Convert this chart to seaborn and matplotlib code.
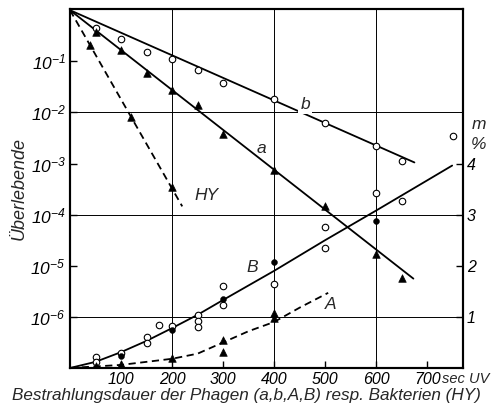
import matplotlib
matplotlib.use("Agg")
import matplotlib.pyplot as plt
import numpy as np
import pandas as pd
import seaborn as sns

sns.set_theme(style="ticks")
plt.rcParams['font.family'] = ['Liberation Sans', 'DejaVu Sans']
plt.rcParams['font.style'] = 'italic'
plt.rcParams['mathtext.fontset'] = 'custom'
plt.rcParams['mathtext.it'] = 'Liberation Sans:italic'
plt.rcParams['mathtext.rm'] = 'Liberation Sans:italic'
plt.rcParams['mathtext.default'] = 'it'

# phage b survivors (open circles)
b_x = [50, 100, 150, 200, 250, 300, 400, 500, 600, 650]
b_y = [0.44, 0.27, 0.15, 0.11, 0.069, 0.037, 0.018, 0.0063, 0.0022, 0.0011]
b_line_x = [0, 675]
b_line_y = [1.0, 1.05e-3]

# phage a survivors (triangles)
a_x = [50, 100, 150, 200, 250, 300, 400, 500, 600, 650]
a_y = [0.37, 0.17, 0.06, 0.028, 0.014, 0.0037, 7.6e-4, 1.45e-4, 1.7e-5, 5.8e-6]
a_line_x = [0, 673]
a_line_y = [1.0, 5.6e-6]

# bacteria HY survivors (triangles, dashed)
hy_x = [40, 120, 200]
hy_y = [0.21, 0.0083, 3.4e-4]
hy_line_x = [0, 220]
hy_line_y = [1.0, 1.45e-4]

# mutants B in % (open and filled circles)
B_open_x = [50, 50, 100, 150, 150, 175, 200, 250, 250, 250, 300, 300, 400, 500, 500, 600, 650, 750]
B_open_m = [0.22, 0.12, 0.29, 0.6, 0.49, 0.84, 0.82, 1.04, 0.92, 0.8, 1.61, 1.24, 1.65, 2.76, 2.35, 3.43, 3.26, 4.53]
B_full_x = [100, 200, 300, 400, 600]
B_full_m = [0.23, 0.74, 1.35, 2.08, 2.88]
B_line_x = [0, 50, 100, 150, 200, 250, 300, 400, 500, 600, 700, 749]
B_line_m = [0, 0.12, 0.31, 0.53, 0.78, 1.04, 1.33, 1.9, 2.5, 3.08, 3.67, 3.96]

# mutants A in % (triangles, dashed)
A_x = [50, 100, 200, 300, 300, 400, 400]
A_m = [0.04, 0.08, 0.2, 0.55, 0.31, 1.08, 0.98]
A_line_x = [0, 100, 200, 250, 300, 350, 400, 450, 506]
A_line_m = [0, 0.06, 0.18, 0.28, 0.5, 0.72, 0.9, 1.18, 1.47]

fig = plt.figure(figsize=(4.94, 4.13), dpi=100)
ax = fig.add_axes([0.1417, 0.109, 0.7953, 0.869])
ax2 = ax.twinx()

k = dict(color="black", lw=1.3)
sns.lineplot(x=b_line_x, y=b_line_y, ax=ax, **k)
sns.lineplot(x=a_line_x, y=a_line_y, ax=ax, **k)
sns.lineplot(x=hy_line_x, y=hy_line_y, ax=ax, **k)
ax.lines[-1].set_linestyle((0, (4, 2.5)))

sns.scatterplot(x=b_x, y=b_y, ax=ax, marker="o", s=22, facecolor="white",
                edgecolor="black", linewidth=0.8, zorder=5)
sns.scatterplot(x=a_x, y=a_y, ax=ax, marker="^", s=30, color="black",
                edgecolor="black", zorder=5)
sns.scatterplot(x=hy_x, y=hy_y, ax=ax, marker="^", s=30, color="black",
                edgecolor="black", zorder=5)

sns.lineplot(x=B_line_x, y=B_line_m, ax=ax2, **k)
sns.lineplot(x=A_line_x, y=A_line_m, ax=ax2, **k)
ax2.lines[-1].set_linestyle((0, (4, 2.5)))
sns.scatterplot(x=B_open_x, y=B_open_m, ax=ax2, marker="o", s=22, facecolor="white",
                edgecolor="black", linewidth=0.8, zorder=5)
sns.scatterplot(x=B_full_x, y=B_full_m, ax=ax2, marker="o", s=18, color="black",
                edgecolor="black", zorder=5)
sns.scatterplot(x=A_x, y=A_m, ax=ax2, marker="^", s=30, color="black",
                edgecolor="black", zorder=5)

ax.set_yscale("log")
ax.set_xlim(0, 770)
ax.set_ylim(1e-7, 1.05)
ax2.set_ylim(0, 7 + np.log10(1.05))

for xg in [200, 400, 600]:
    ax.axvline(xg, color="black", lw=0.7, zorder=1)
for yg in [1e-2, 1e-4, 1e-6]:
    ax.axhline(yg, color="black", lw=0.7, zorder=1)

ax.set_xticks([100, 200, 300, 400, 500, 600, 700])
ax.set_xticklabels(["100", "200", "300", "400", "500", "600", "700"])
exps = [1, 2, 3, 4, 5, 6]
ax.set_yticks([10.0 ** -e for e in exps])
ax.set_yticklabels([r"$10^{-%d}$" % e for e in exps])
ax.minorticks_off()
ax2.set_yticks([1, 2, 3, 4])
ax2.set_yticklabels(["1", "2", "3", "4"])

for a_ in (ax, ax2):
    a_.tick_params(direction="in", length=5, width=1, labelsize=11.5, colors="black", pad=3)
    for sp in a_.spines.values():
        sp.set_linewidth(1.5)
        sp.set_color("black")
        sp.set_visible(True)
ax.tick_params(axis="y", labelsize=12.5)

ax.set_ylabel("Überlebende", fontsize=13, labelpad=2)
ax.set_xlabel("Bestrahlungsdauer der Phagen (a,b,A,B) resp. Bakterien (HY)",
              fontsize=12.3, labelpad=2)
ax.xaxis.set_label_coords(0.45, -0.055)
ax.text(729, -0.012, "sec UV", transform=ax.get_xaxis_transform(), fontsize=10.5,
        ha="left", va="top")
ax2.text(1.04, 4.68, "m", transform=ax2.get_yaxis_transform(), fontsize=12.5, ha="center")
ax2.text(1.04, 4.28, "%", transform=ax2.get_yaxis_transform(), fontsize=12.5, ha="center")

lab = dict(fontsize=12.5, ha="center", va="center")
ax.text(461, 0.0144, "b", bbox=dict(facecolor="white", edgecolor="none", pad=1.5), **lab)
ax.text(376, 2.0e-3, "a", **lab)
ax.text(267, 2.4e-4, "HY", **lab)
ax2.text(357, 1.96, "B", **lab)
ax2.text(510, 1.24, "A", **lab)

fig.savefig("out.png", dpi=100)
